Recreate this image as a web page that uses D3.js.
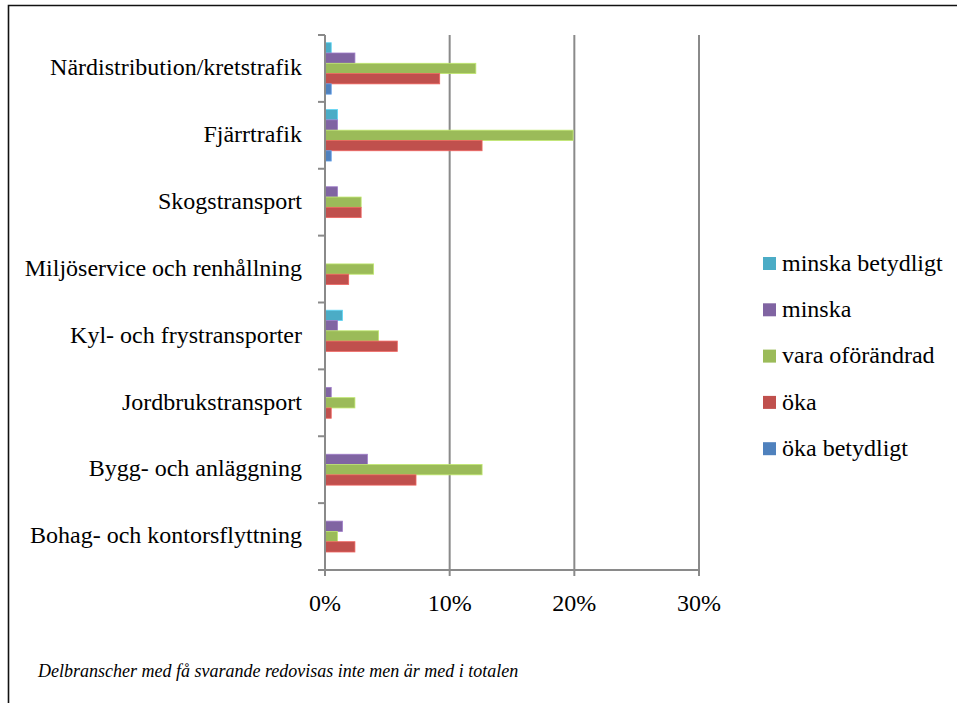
<!DOCTYPE html>
<html><head><meta charset="utf-8">
<script src="https://cdn.jsdelivr.net/npm/d3@7/dist/d3.min.js"></script>
<style>
html,body{margin:0;padding:0;background:#fff;}
svg{display:block;}
text{font-family:"Liberation Serif","DejaVu Serif",serif;fill:#000;}
</style></head>
<body>
<svg id="c" width="957" height="703"></svg>
<script>
const categories = ["Närdistribution/kretstrafik","Fjärrtrafik","Skogstransport","Miljöservice och renhållning","Kyl- och frystransporter","Jordbrukstransport","Bygg- och anläggning","Bohag- och kontorsflyttning"];
const seriesNames = ["minska betydligt","minska","vara oförändrad","öka","öka betydligt"];
const seriesColors = ["#4BACC6","#8064A2","#9BBB59","#C0504D","#4F81BD"];
const minskaBetydligt = [0.005,0.010,0,0,0.014,0,0,0];
const minska          = [0.024,0.010,0.010,0,0.010,0.005,0.034,0.014];
const varaOforandrad  = [0.121,0.199,0.029,0.039,0.043,0.024,0.126,0.010];
const oka             = [0.092,0.126,0.029,0.019,0.058,0.005,0.073,0.024];
const okaBetydligt    = [0.005,0.005,0,0,0,0,0,0];
const seriesValues = [minskaBetydligt,minska,varaOforandrad,oka,okaBetydligt];
const xTicks = [0,0.1,0.2,0.3];
const footnote = "Delbranscher med få svarande redovisas inte men är med i totalen";

const svg = d3.select("#c");
const plot = {left:325, right:699, top:35, bottom:570};
const x = d3.scaleLinear().domain([0,0.3]).range([plot.left, plot.right]);
const y0 = d3.scaleBand().domain(categories).range([plot.top, plot.bottom]).paddingInner(0).paddingOuter(0);
const y1 = d3.scaleBand().domain(seriesNames).range([0, y0.bandwidth()]).paddingInner(0).paddingOuter(0.75);

// border
svg.append("path").attr("d","M8.5,703 L8.5,5.5 L957,5.5").attr("fill","none").attr("stroke","#111").attr("stroke-width",1.6);

// gridlines
const gridColor = "#8a8a8a";
svg.append("g").selectAll("line").data(xTicks.slice(1)).join("line")
  .attr("x1",d=>x(d)).attr("x2",d=>x(d)).attr("y1",plot.top).attr("y2",plot.bottom)
  .attr("stroke",gridColor).attr("stroke-width",2);

// bars
const data = [];
categories.forEach((c,i)=>seriesNames.forEach((s,j)=>data.push({c,s,v:seriesValues[j][i],col:seriesColors[j]})));
svg.append("g").selectAll("rect").data(data.filter(d=>d.v>0)).join("rect")
  .attr("x",x(0)).attr("y",d=>y0(d.c)+y1(d.s)).attr("width",d=>x(d.v)-x(0)).attr("height",y1.bandwidth())
  .attr("fill",d=>d.col).attr("stroke",d=>d3.color(d.col).brighter(0.6)).attr("stroke-width",0.8);

// y axis
const yAxis = svg.append("g");
yAxis.append("line").attr("x1",plot.left).attr("x2",plot.left).attr("y1",plot.top).attr("y2",plot.bottom+6).attr("stroke",gridColor).attr("stroke-width",2);
const yTickPos = categories.map(c=>y0(c)).concat([plot.bottom]);
yAxis.selectAll("line.t").data(yTickPos).join("line").attr("class","t")
  .attr("x1",plot.left-7).attr("x2",plot.left).attr("y1",d=>d).attr("y2",d=>d).attr("stroke",gridColor).attr("stroke-width",2);
yAxis.selectAll("text").data(categories).join("text")
  .attr("x",302).attr("y",d=>y0(d)+y0.bandwidth()/2).attr("dy","0.28em").attr("text-anchor","end")
  .style("font-size","24px").text(d=>d);

// x axis
const xAxis = svg.append("g");
xAxis.append("line").attr("x1",plot.left-7).attr("x2",plot.right).attr("y1",plot.bottom).attr("y2",plot.bottom).attr("stroke",gridColor).attr("stroke-width",2);
xAxis.selectAll("line.t").data(xTicks).join("line").attr("class","t")
  .attr("x1",d=>x(d)).attr("x2",d=>x(d)).attr("y1",plot.bottom).attr("y2",plot.bottom+6).attr("stroke",gridColor).attr("stroke-width",2);
xAxis.selectAll("text").data(xTicks).join("text")
  .attr("x",d=>x(d)).attr("y",611).attr("text-anchor","middle").style("font-size","24px")
  .text(d=>d3.format(".0%")(d));

// legend
const leg = svg.append("g").attr("transform","translate(763,264)");
const li = leg.selectAll("g").data(seriesNames).join("g").attr("transform",(d,i)=>`translate(0,${i*46.3})`);
li.append("rect").attr("x",0).attr("y",-7).attr("width",13).attr("height",13).attr("fill",(d,i)=>seriesColors[i]);
li.append("text").attr("x",19).attr("y",0).attr("dy","0.28em").style("font-size","24px").text(d=>d);

// footnote
svg.append("text").attr("x",38).attr("y",677).style("font-size","18px").style("font-style","italic").text(footnote);
</script>
</body></html>
